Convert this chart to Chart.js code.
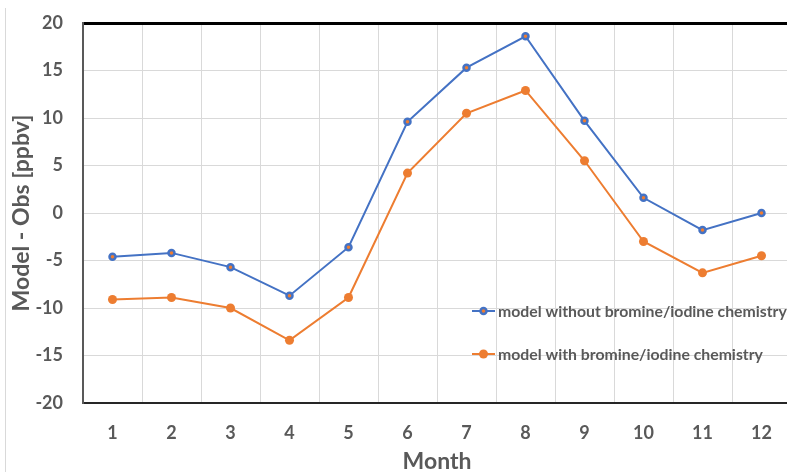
<!DOCTYPE html>
<html>
<head>
<meta charset="utf-8">
<script src="https://cdn.jsdelivr.net/npm/chart.js@4.4.1/dist/chart.umd.min.js"></script>
<style>
  html, body { margin: 0; padding: 0; background: #fff; overflow: hidden; }
  #wrap { position: relative; width: 800px; height: 472px; }
  #edge { position: absolute; left: 5px; top: 8px; bottom: 0; width: 1px; background: #d9d9d9; }
  canvas { display: block; }
</style>
</head>
<body>
<div id="wrap">
  <div id="edge"></div>
  <canvas id="canvas" width="800" height="472"></canvas>
</div>
<script>
(function() {

    // months on the x axis
    const months = ['1','2','3','4','5','6','7','8','9','10','11','12']

    // model - obs, ppbv
    const withoutBrI = [-4.6, -4.2, -5.7, -8.7, -3.6, 9.6, 15.3, 18.6, 9.7, 1.6, -1.8, 0.0]
    const withBrI    = [-9.1, -8.9, -10.0, -13.4, -8.9, 4.2, 10.5, 12.9, 5.5, -3.0, -6.3, -4.5]

    const seriesNames = ['model without bromine/iodine chemistry', 'model with bromine/iodine chemistry']

    // y ticks
    const yMin = -20
    const yMax = 20
    const yStep = 5

    const blue = '#4472C4'
    const orange = '#ED7D31'
    const grey = '#595959'
    const font = 'Lato, "Open Sans", sans-serif'

    function el(cssSelector){
        return document.querySelector(cssSelector)
    }

    // legend sits inside the plot, lower right
    const insideLegend = {
        id: 'insideLegend',
        afterDatasetsDraw(chart) {
            const ctx = chart.ctx
            const x0 = 472
            const ys = [311, 354]
            chart.data.datasets.forEach((ds, i) => {
                const y = ys[i]
                ctx.save()
                ctx.strokeStyle = ds.borderColor
                ctx.lineWidth = 2
                ctx.beginPath()
                ctx.moveTo(x0, y)
                ctx.lineTo(x0 + 23, y)
                ctx.stroke()
                ctx.beginPath()
                ctx.arc(x0 + 11.5, y, ds.pointRadius, 0, Math.PI * 2)
                ctx.fillStyle = ds.pointBackgroundColor
                ctx.fill()
                if (ds.pointBorderWidth) {
                    ctx.lineWidth = ds.pointBorderWidth
                    ctx.strokeStyle = ds.pointBorderColor
                    ctx.stroke()
                }
                ctx.fillStyle = grey
                ctx.font = 'bold 15.8px ' + font
                ctx.textBaseline = 'middle'
                ctx.fillText(ds.label, x0 + 26, y + 1)
                ctx.restore()
            })
        }
    }

    let ctx = el('#canvas').getContext('2d')
    new Chart(ctx, {
        type: 'line',
        data: {
            labels: months,
            datasets: [{
                label: seriesNames[0],
                data: withoutBrI,
                borderColor: blue,
                backgroundColor: blue,
                borderWidth: 2,
                pointRadius: 3,
                pointBorderWidth: 2.5,
                pointBorderColor: blue,
                pointBackgroundColor: orange,
                tension: 0
            }, {
                label: seriesNames[1],
                data: withBrI,
                borderColor: orange,
                backgroundColor: orange,
                borderWidth: 2,
                pointRadius: 4.5,
                pointBorderWidth: 0,
                pointBorderColor: orange,
                pointBackgroundColor: orange,
                tension: 0
            }]
        },
        options: {
            responsive: false,
            animation: false,
            layout: { padding: { top: 23, right: 9, left: 0, bottom: 0 } },
            plugins: {
                legend: { display: false },
                tooltip: { enabled: false }
            },
            scales: {
                x: {
                    offset: true,
                    grid: { offset: true, color: '#d9d9d9', lineWidth: 1, drawTicks: false },
                    border: { color: '#262626', width: 2 },
                    ticks: { color: grey, padding: 19, font: { family: font, size: 18, weight: 'bold' } },
                    title: { display: true, text: 'Month', color: grey, padding: { top: 0, bottom: -3 },
                             font: { family: font, size: 23, weight: 'bold' } },
                    afterFit(scale) { scale.height = 69 }
                },
                y: {
                    min: yMin,
                    max: yMax,
                    grid: {
                        drawTicks: false,
                        color: c => c.tick.value === yMax ? '#000' : '#d9d9d9',
                        lineWidth: c => c.tick.value === yMax ? 3 : 1
                    },
                    border: { color: '#595959', width: 2 },
                    ticks: { stepSize: yStep, color: grey, padding: 20,
                             font: { family: font, size: 18, weight: 'bold' } },
                    title: { display: true, text: 'Model - Obs [ppbv]', color: grey, padding: { top: 8, bottom: 0 },
                             font: { family: font, size: 23, weight: 'bold' } },
                    afterFit(scale) {
                        scale.width = 83
                        scale.paddingTop = 0
                        scale.paddingBottom = 0
                    }
                }
            }
        },
        plugins: [insideLegend]
    })

}())
</script>
</body>
</html>
